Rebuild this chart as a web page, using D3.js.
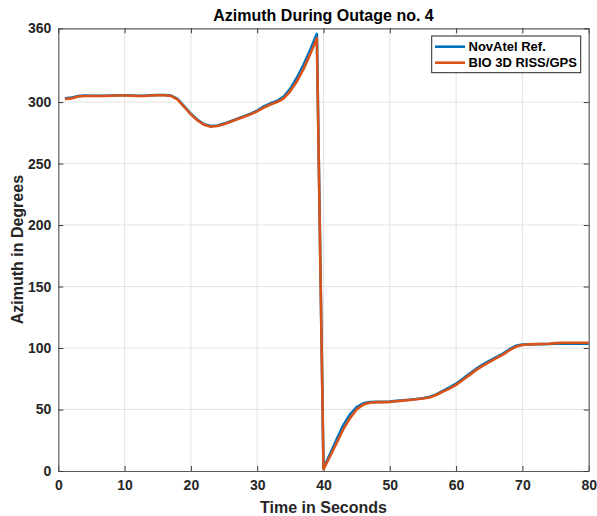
<!DOCTYPE html>
<html><head><meta charset="utf-8">
<script src="https://cdn.jsdelivr.net/npm/d3@7"></script>
<style>body{margin:0;background:#fff}svg{display:block;font-family:"Liberation Sans",Arial,sans-serif}</style>
</head><body><svg id="c" width="597" height="516"></svg>
<script>
const time = d3.range(1, 81);
const novatel = [303,303.6,305,305.3,305.2,305.2,305.2,305.4,305.5,305.5,305.4,305.2,305.2,305.5,305.8,305.8,305.3,302.5,296.5,290.5,285.5,282,280.5,281,282.5,284.5,286.5,288.5,290.5,293,296.5,299,301,304.5,311,320,330.5,342.5,355.5,
 2.5,14,26,37.5,46,52,55,56,56.2,56.2,56.4,57,57.5,58,58.5,59.2,60.3,62.3,65.2,68,71,75,79,83,86.5,89.5,92.3,95.2,98.8,101.8,102.8,103,103.1,103.2,103.3,103.5,103.6,103.6,103.5,103.5,103.5];
const bio3d = [302.5,303,304.5,305,305,305,305,305.2,305.3,305.3,305.2,305,305,305.3,305.6,305.6,305,302,296,290,285,281.5,280,280.5,282,284,286,288,290,292.5,295.5,298,300,303,309,317,327,339,352,
 1.5,12,23,34,43,50,54,55.5,56,56,56.2,56.7,57.2,57.8,58.3,59,59.8,61.8,64.5,67,70,74,78,82,85.5,88.5,91.5,94.5,98,101,102.5,103,103.2,103.3,103.5,104,104.3,104.3,104.3,104.3,104.3];
const xTicks = [0,10,20,30,40,50,60,70,80];
const yTicks = [0,50,100,150,200,250,300,360];
const seriesNames = ["NovAtel Ref.","BIO 3D RISS/GPS"];
const colors = ["#0072BD","#D95319"];

const svg = d3.select("#c");
const L=58.3,R=588.7,T=28.3,B=471;
const x = d3.scaleLinear().domain([0,80]).range([L,R]);
const y = d3.scaleLinear().domain([0,360]).range([B,T]);

// grid
const g = svg.append("g");
g.selectAll(".gx").data(xTicks.slice(1,-1)).join("line").attr("x1",d=>x(d)).attr("x2",d=>x(d)).attr("y1",T).attr("y2",B).attr("stroke","#e3e3e3").attr("stroke-width",1);
g.selectAll(".gy").data(yTicks.slice(1,-1)).join("line").attr("y1",d=>y(d)).attr("y2",d=>y(d)).attr("x1",L).attr("x2",R).attr("stroke","#e3e3e3").attr("stroke-width",1);

// axes
const ax = svg.append("g").attr("transform",`translate(0,${B})`).call(d3.axisBottom(x).tickValues(xTicks).tickSizeInner(-5).tickSizeOuter(0).tickPadding(9));
const ay = svg.append("g").attr("transform",`translate(${L},0)`).call(d3.axisLeft(y).tickValues(yTicks).tickSizeInner(-5).tickSizeOuter(0).tickPadding(7));
const at = svg.append("g").attr("transform",`translate(0,${T})`).call(d3.axisTop(x).tickValues(xTicks).tickSizeInner(-5).tickSizeOuter(0).tickFormat(""));
const ar = svg.append("g").attr("transform",`translate(${R},0)`).call(d3.axisRight(y).tickValues(yTicks).tickSizeInner(-5).tickSizeOuter(0).tickFormat(""));
[ax,ay,at,ar].forEach(a=>{
  a.selectAll("path.domain").attr("stroke","#5a5a5a").attr("stroke-width",1.2);
  a.selectAll(".tick line").attr("stroke","#3a3a3a");
  a.selectAll("text").attr("fill","#262626").style("font-size","14px").style("font-weight","bold").style("font-family","'Liberation Sans',Arial,sans-serif");
});

// lines
const line = d3.line().x((d,i)=>x(time[i])).y(d=>y(d));
[novatel,bio3d].forEach((s,k)=>{
  svg.append("path").datum(s).attr("d",line).attr("fill","none").attr("stroke",colors[k]).attr("stroke-width",2.6).attr("stroke-linejoin","round");
});

// title and labels
svg.append("text").attr("x",(L+R)/2).attr("y",20.5).attr("text-anchor","middle").style("font-size","16px").style("font-weight","bold").attr("fill","#000").text("Azimuth During Outage no. 4");
svg.append("text").attr("x",(L+R)/2).attr("y",513).attr("text-anchor","middle").style("font-size","16px").style("font-weight","bold").attr("fill","#262626").text("Time in Seconds");
svg.append("text").attr("transform",`translate(23,${(T+B)/2}) rotate(-90)`).attr("text-anchor","middle").style("font-size","16px").style("font-weight","bold").attr("fill","#262626").text("Azimuth in Degrees");

// legend
const lg = svg.append("g");
lg.append("rect").attr("x",431.7).attr("y",36).attr("width",149).attr("height",36.7).attr("fill","#fff").attr("stroke","#262626").attr("stroke-width",1);
seriesNames.forEach((n,k)=>{
  const yy = 46.7 + k*16;
  lg.append("line").attr("x1",435).attr("x2",465).attr("y1",yy).attr("y2",yy).attr("stroke",colors[k]).attr("stroke-width",2.6);
  lg.append("text").attr("x",468.5).attr("y",yy+4.5).style("font-size","13px").style("font-weight","bold").attr("fill","#000").text(n);
});
</script></body></html>
